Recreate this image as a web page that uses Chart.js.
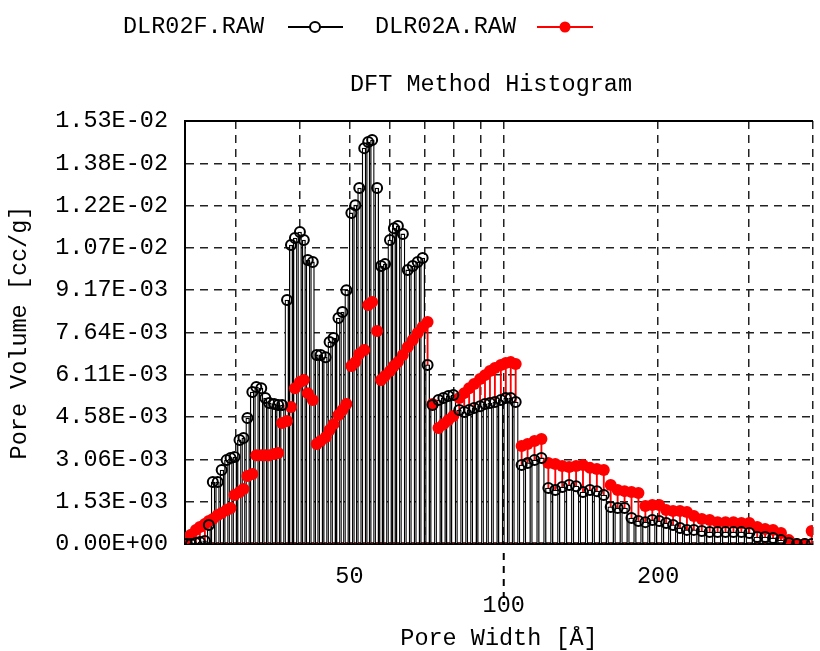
<!DOCTYPE html>
<html>
<head>
<meta charset="utf-8">
<title>DFT Method Histogram</title>
<script src="https://cdn.jsdelivr.net/npm/chart.js@4.4.1/dist/chart.umd.min.js"></script>
<style>
  html, body { margin: 0; padding: 0; background: #fff; }
  canvas { display: block; }
</style>
</head>
<body>
<canvas id="dftChart" width="820" height="651"></canvas>
<script>
// pore width bins [Å]
var poreWidth = [
    24.12, 24.55, 25.10, 25.55, 26.13, 26.60, 27.08, 27.68, 28.18, 28.81,
    29.33, 29.86, 30.53, 31.08, 31.63, 32.34, 32.92, 33.66, 34.27, 34.88,
    35.67, 36.31, 36.96, 37.79, 38.47, 39.16, 40.04, 40.75, 41.48, 42.42,
    43.18, 43.95, 44.94, 45.75, 46.57, 47.61, 48.47, 49.34, 50.45, 51.35,
    52.27, 53.45, 54.41, 55.38, 56.63, 57.64, 58.68, 60.00, 61.07, 62.17,
    63.57, 64.99, 66.46, 67.95, 69.48, 71.04, 72.63, 74.60, 76.27, 77.99,
    79.74, 81.90, 83.74, 85.62, 87.54, 89.91, 91.93, 94.00, 96.11, 98.71,
    100.93, 103.19, 105.51, 108.37, 111.30, 114.81, 118.44, 122.18, 126.05, 130.03,
    134.14, 138.38, 142.75, 147.26, 151.92, 156.72, 161.67, 166.78, 172.05, 177.49,
    183.10, 188.89, 194.86, 201.02, 207.37, 213.93, 220.69, 227.66, 234.86, 243.36,
    252.17, 261.30, 270.76, 280.56, 290.72, 301.24, 312.15, 323.44, 335.16, 347.29,
    359.86, 372.88, 386.38, 398.59
];

// pore volume [cc/g]
var dlr02f = [
    0, 0, 0.00004, 0.00007, 0.00011, 0.00069, 0.00224, 0.00224, 0.00267, 0.00303,
    0.00311, 0.00314, 0.00376, 0.00383, 0.00455, 0.00549, 0.00567, 0.00563, 0.00527, 0.00509,
    0.00506, 0.00502, 0.00502, 0.00881, 0.01080, 0.01105, 0.01127, 0.01098, 0.01026, 0.01019,
    0.00683, 0.00683, 0.00675, 0.00730, 0.00744, 0.00816, 0.00838, 0.00917, 0.01196, 0.01224,
    0.01286, 0.01430, 0.01452, 0.01459, 0.01286, 0.01004, 0.01011, 0.01098, 0.01141, 0.01149,
    0.01120, 0.00990, 0.01004, 0.01019, 0.01033, 0.00647, 0.00502, 0.00520, 0.00527, 0.00535,
    0.00538, 0.00484, 0.00477, 0.00484, 0.00491, 0.00498, 0.00506, 0.00509, 0.00513, 0.00520,
    0.00527, 0.00527, 0.00513, 0.00285, 0.00293, 0.00303, 0.00311, 0.00202, 0.00195, 0.00206,
    0.00213, 0.00209, 0.00188, 0.00195, 0.00191, 0.00177, 0.00134, 0.00130, 0.00130, 0.00094,
    0.00083, 0.00079, 0.00087, 0.00083, 0.00076, 0.00069, 0.00058, 0.00051, 0.00051, 0.00047,
    0.00043, 0.00043, 0.00043, 0.00043, 0.00043, 0.00040, 0.00025, 0.00025, 0.00022, 0.00014,
    0.00004, 0, 0, 0
];

var dlr02a = [
    0.00022, 0.00033, 0.00051, 0.00061, 0.00072, 0.00083, 0.00090, 0.00105, 0.00112, 0.00123,
    0.00130, 0.00177, 0.00188, 0.00199, 0.00246, 0.00253, 0.00321, 0.00321, 0.00321, 0.00321,
    0.00325, 0.00329, 0.00437, 0.00444, 0.00495, 0.00563, 0.00585, 0.00592, 0.00545, 0.00520,
    0.00361, 0.00372, 0.00386, 0.00412, 0.00433, 0.00466, 0.00484, 0.00506, 0.00643, 0.00657,
    0.00686, 0.00701, 0.00863, 0.00874, 0.00769, 0.00592, 0.00607, 0.00625, 0.00643, 0.00657,
    0.00683, 0.00712, 0.00737, 0.00762, 0.00784, 0.00802, 0.00506, 0.00419, 0.00433, 0.00448,
    0.00462, 0.00527, 0.00545, 0.00563, 0.00578, 0.00596, 0.00610, 0.00625, 0.00636, 0.00647,
    0.00654, 0.00657, 0.00650, 0.00354, 0.00361, 0.00372, 0.00379, 0.00293, 0.00289, 0.00282,
    0.00278, 0.00282, 0.00285, 0.00275, 0.00271, 0.00267, 0.00213, 0.00195, 0.00191, 0.00188,
    0.00184, 0.00137, 0.00141, 0.00141, 0.00123, 0.00119, 0.00119, 0.00116, 0.00101, 0.00090,
    0.00087, 0.00079, 0.00079, 0.00079, 0.00076, 0.00076, 0.00061, 0.00054, 0.00051, 0.00040,
    0.00014, 0, 0, 0.00047
];

var seriesNames = ['DLR02F.RAW', 'DLR02A.RAW'];

// x grid lines (log axis), only some are labelled; row 1 = staggered lower label
var xTickValues = [30, 40, 50, 60, 70, 80, 90, 100, 200, 300, 400];
var xTickLabels = ['', '', '50', '', '', '', '', '100', '200', '', ''];
var xLabelRow   = [0, 0, 0, 0, 0, 0, 0, 1, 0, 0, 0];

var yTickValues = [0, 0.001528, 0.003056, 0.004584, 0.006112, 0.00764,
    0.009168, 0.010696, 0.012224, 0.013752, 0.01528];
var yTickLabels = ['0.00E+00', '1.53E-03', '3.06E-03', '4.58E-03', '6.11E-03', '7.64E-03',
    '9.17E-03', '1.07E-02', '1.22E-02', '1.38E-02', '1.53E-02'];

var FONT_FAMILY = '"Liberation Mono", "Courier New", monospace';
var FONT_SIZE = 23.5;

function toPoints(values) {
    return values.map(function (v, i) {
        return { x: poreWidth[i], y: v };
    });
}

// title, legend (text first, then sample), top edge of the box, leader under staggered label
var frameAndLegend = {
    id: 'frameAndLegend',
    afterDraw: function (chart) {
        var ctx = chart.ctx;
        var area = chart.chartArea;
        var xScale = chart.scales.x;
        ctx.save();
        ctx.strokeStyle = '#000';
        ctx.lineWidth = 2;
        ctx.beginPath();
        ctx.moveTo(area.left, area.top);
        ctx.lineTo(area.right, area.top);
        ctx.stroke();

        // dashed leader down to the lower-row label
        ctx.setLineDash([7, 6]);
        for (var i = 0; i < xTickValues.length; i++) {
            if (xLabelRow[i] !== 1) continue;
            var px = xScale.getPixelForValue(xTickValues[i]);
            ctx.beginPath();
            ctx.moveTo(px, area.bottom + 9);
            ctx.lineTo(px, area.bottom + 54);
            ctx.stroke();
        }
        ctx.setLineDash([]);

        ctx.font = FONT_SIZE + 'px ' + FONT_FAMILY;
        ctx.fillStyle = '#000';
        ctx.textAlign = 'left';
        ctx.textBaseline = 'middle';
        ctx.fillText('DFT Method Histogram', 350, 85);

        ctx.fillText(seriesNames[0], 123, 27);
        ctx.lineWidth = 2;
        ctx.beginPath();
        ctx.moveTo(288, 27);
        ctx.lineTo(343, 27);
        ctx.stroke();
        ctx.beginPath();
        ctx.arc(315, 27, 5, 0, Math.PI * 2);
        ctx.fillStyle = '#fff';
        ctx.fill();
        ctx.stroke();

        ctx.fillStyle = '#000';
        ctx.fillText(seriesNames[1], 375, 27);
        ctx.strokeStyle = '#ff0000';
        ctx.beginPath();
        ctx.moveTo(537, 27);
        ctx.lineTo(593, 27);
        ctx.stroke();
        ctx.beginPath();
        ctx.arc(565, 27, 5.5, 0, Math.PI * 2);
        ctx.fillStyle = '#ff0000';
        ctx.fill();
        ctx.restore();
    }
};

Chart.defaults.font.family = FONT_FAMILY;
Chart.defaults.font.size = FONT_SIZE;
Chart.defaults.font.weight = 'normal';
Chart.defaults.color = '#000';

var ctxDft = document.getElementById('dftChart').getContext('2d');

new Chart(ctxDft, {
    type: 'bar',
    data: {
        datasets: [{
            // red drop lines
            type: 'bar',
            label: seriesNames[1] + ' stems',
            data: toPoints(dlr02a),
            backgroundColor: '#ff0000',
            borderWidth: 0,
            barThickness: 1.2,
            grouped: false,
            order: 4
        }, {
            // black hollow drop bars
            type: 'bar',
            label: seriesNames[0] + ' stems',
            data: toPoints(dlr02f),
            backgroundColor: '#fff',
            borderColor: '#000',
            borderWidth: 1.3,
            borderSkipped: false,
            barThickness: 'flex',
            barPercentage: 0.85,
            categoryPercentage: 1,
            order: 3
        }, {
            type: 'line',
            label: seriesNames[1],
            data: toPoints(dlr02a),
            showLine: false,
            pointStyle: 'circle',
            pointRadius: 6,
            pointBackgroundColor: '#ff0000',
            pointBorderWidth: 0,
            order: 2
        }, {
            type: 'line',
            label: seriesNames[0],
            data: toPoints(dlr02f),
            showLine: false,
            pointStyle: 'circle',
            pointRadius: 5,
            pointBackgroundColor: 'rgba(255,255,255,0)',
            pointBorderColor: '#000',
            pointBorderWidth: 2,
            order: 1
        }]
    },
    options: {
        responsive: false,
        animation: false,
        devicePixelRatio: 1,
        layout: {
            padding: { top: 121, right: 1, bottom: 0, left: 0 }
        },
        plugins: {
            legend: { display: false },
            title: { display: false },
            tooltip: { enabled: false }
        },
        scales: {
            x: {
                type: 'logarithmic',
                min: 23.9,
                max: 401,
                offset: false,
                afterBuildTicks: function (scale) {
                    scale.ticks = xTickValues.map(function (v) { return { value: v }; });
                },
                afterFit: function (scale) {
                    scale.height = 107;
                },
                ticks: {
                    autoSkip: false,
                    maxRotation: 0,
                    minRotation: 0,
                    padding: -34,
                    callback: function (value, index) {
                        var label = xTickLabels[index];
                        return xLabelRow[index] ? ['', label] : label;
                    }
                },
                grid: {
                    offset: false,
                    color: '#222',
                    lineWidth: 1.5,
                    drawTicks: true,
                    tickLength: 53,
                    tickColor: 'rgba(0,0,0,0)'
                },
                border: { display: true, color: '#000', width: 2, dash: [8, 6] },
                title: {
                    display: true,
                    text: 'Pore Width [Å]',
                    padding: { top: 0, bottom: -2 }
                }
            },
            y: {
                type: 'linear',
                min: 0,
                max: 0.01528,
                afterBuildTicks: function (scale) {
                    scale.ticks = yTickValues.map(function (v) { return { value: v }; });
                },
                afterFit: function (scale) {
                    scale.width = 185;
                },
                ticks: {
                    padding: 17,
                    callback: function (value, index) {
                        return yTickLabels[index];
                    }
                },
                grid: {
                    color: '#222',
                    lineWidth: 1.5,
                    drawTicks: false
                },
                border: { display: true, color: '#000', width: 2, dash: [8, 6] },
                title: {
                    display: true,
                    text: 'Pore Volume [cc/g]',
                    padding: { top: 6, bottom: 0 }
                }
            }
        }
    },
    plugins: [frameAndLegend]
});
</script>
</body>
</html>
